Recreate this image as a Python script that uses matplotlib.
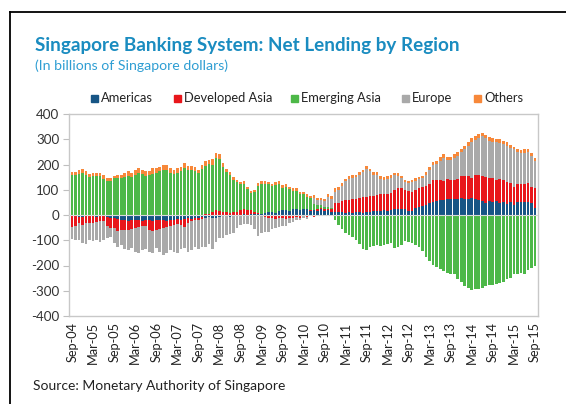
import matplotlib
matplotlib.use("Agg")
import matplotlib.pyplot as plt
import numpy as np
import pandas as pd
from matplotlib.lines import Line2D
from matplotlib.patches import Rectangle

# ---------------- data (billions of SGD, monthly Sep-04 .. Sep-15) ----------------
americas = [-5,-4,-6,-8,-3,-5,-4,-6,-5,-4,-8,-10,-12,-15,-18,-20,-22,-20,-18,-20,-22,-20,-18,-22,-20,-18,-20,-22,-18,-20,-15,-18,-15,-12,-14,-10,-10,-8,-10,-6,-12,-10,-8,
            -5,-3,-8,-2,-3,-2,2,-3,3,2,3,5,8,10,12,8,15,18,20,15,25,22,20,25,22,15,20,16,22,15,20,12,
            10,12,10,8,10,9,12,10,8,12,10,14,15,16,18,16,20,22,24,23,22,16,15,28,30,35,40,47,52,55,58,60,62,65,63,62,66,65,64,66,62,60,55,48,54,50,55,48,52,43,52,40,52,51,52,53,46,29]
developed_asia = [-42,-41,-24,-31,-29,-25,-26,-22,-20,-19,-35,-40,-41,-48,-40,-40,-36,-36,-34,-29,-23,-23,-42,-41,-38,-38,-32,-26,-27,-19,-21,-22,-32,-18,-11,-10,-8,-6,3,5,12,20,15,
                  10,12,8,10,12,18,22,20,18,10,5,-3,-8,-12,-10,-15,-12,-10,-15,-10,-12,-8,-10,-5,-8,3,-8,8,6,8,5,12,
                  37,35,45,50,50,53,52,56,62,59,64,61,65,67,66,69,68,78,84,85,78,78,77,72,75,77,75,75,88,83,82,75,80,72,75,82,87,88,91,80,98,99,100,102,93,95,83,94,86,87,76,72,70,71,72,72,66,77]
emerging_asia = [158,157,164,168,157,152,153,153,153,144,134,136,145,145,146,150,155,152,160,165,162,155,157,163,168,174,180,179,167,164,167,174,185,180,177,175,168,183,192,197,188,207,205,
                 180,158,150,128,118,103,97,82,68,80,107,116,115,111,102,110,106,90,92,87,71,73,62,57,51,48,25,15,12,10,8,5,
                 -18,-40,-55,-70,-78,-88,-100,-115,-135,-138,-126,-122,-120,-122,-118,-116,-112,-132,-126,-118,-104,-108,-110,-117,-125,-142,-165,-182,-198,-206,-214,-222,-230,-232,-235,-252,-266,-280,-290,-296,-292,-292,-290,-282,-278,-278,-275,-270,-265,-255,-248,-233,-232,-230,-235,-218,-210,-201]
europe = [-48,-55,-68,-73,-83,-70,-72,-72,-80,-75,-49,-38,-57,-62,-62,-75,-82,-74,-93,-101,-95,-92,-85,-87,-72,-89,-108,-102,-95,-106,-114,-95,-83,-118,-115,-105,-117,-114,-117,-110,-124,-98,-85,
          -85,-77,-67,-68,-47,-38,-35,-33,-40,-55,-85,-70,-60,-55,-45,-38,-35,-33,-28,-20,-15,-12,-8,-7,-8,-5,24,22,21,22,38,35,
          46,52,60,75,81,85,85,91,100,112,99,85,80,60,55,58,59,57,47,37,32,34,40,35,36,34,45,56,58,63,74,90,76,79,87,90,95,108,119,142,136,145,157,153,147,146,150,144,145,144,136,148,128,124,122,125,121,107]
others = [12,15,13,16,18,10,12,14,12,14,12,10,10,12,14,15,20,16,18,20,18,20,18,22,20,18,20,18,18,16,18,16,20,16,18,15,12,14,18,16,20,18,20,
          15,14,12,12,10,10,12,10,8,8,10,12,12,10,10,12,12,10,10,10,12,10,10,10,10,10,10,8,8,10,12,12,
          12,10,12,10,12,12,10,12,10,12,10,12,10,10,10,10,12,10,10,10,8,8,8,10,8,10,10,12,12,14,14,15,12,14,15,16,14,14,16,15,18,16,14,15,14,14,12,14,12,14,12,10,12,12,14,12,12,12]

series_names = ["Americas", "Developed Asia", "Emerging Asia", "Europe", "Others"]
series_colors = ["#175585", "#e8161b", "#4db848", "#a9a9a9", "#f7883a"]
months = pd.date_range("2004-09-01", periods=len(americas), freq="MS")
tick_labels = [d.strftime("%b-%y") for d in months[::6]]
y_ticks = [-400, -300, -200, -100, 0, 100, 200, 300, 400]

FONT = "Lato"
W, H = 566, 404
fig = plt.figure(figsize=(W / 100, H / 100), dpi=100)

def fx(px):
    return px / W

def fy(py):
    return 1 - py / H

# outer frame (top & left)
fig.add_artist(Line2D([fx(10), fx(10)], [fy(12), 0], color="black", lw=1.3))
fig.add_artist(Line2D([fx(10), 1], [fy(12), fy(12)], color="black", lw=1.3))

fig.text(fx(35), fy(45), "Singapore Banking System: Net Lending by Region", family=FONT,
         fontsize=13.6, fontweight="bold", color="#1a8cc0", va="center", ha="left")
fig.text(fx(35), fy(66), "(In billions of Singapore dollars)", family=FONT,
         fontsize=10.2, color="#2f9ed3", va="center", ha="left")

ax = fig.add_axes([fx(69), fy(316), fx(538) - fx(69), fy(114) - fy(316)])
x = np.arange(len(americas))
pos_base = np.zeros(len(x))
neg_base = np.zeros(len(x))
for vals, col in zip([americas, developed_asia, emerging_asia, europe, others], series_colors):
    v = np.asarray(vals, dtype=float)
    p = np.where(v > 0, v, 0)
    q = np.where(v < 0, v, 0)
    ax.bar(x, p, bottom=pos_base, width=0.74, color=col, linewidth=0, zorder=2)
    ax.bar(x, q, bottom=neg_base, width=0.74, color=col, linewidth=0, zorder=2)
    pos_base += p
    neg_base += q

ax.axhline(0, color="#d9d9d9", lw=0.8, zorder=3)
ax.set_xlim(-0.9, len(x) - 0.1)
ax.set_ylim(-400, 400)
ax.set_yticks(y_ticks)
ax.set_yticklabels([str(t) for t in y_ticks], family=FONT, fontsize=9.6, color="#333333")
ax.set_xticks(x[::6])
ax.set_xticklabels(tick_labels, rotation=90, family=FONT, fontsize=9.2, color="#222222")
ax.tick_params(axis="x", length=0, pad=4)
ax.tick_params(axis="y", length=4, color="#bfbfbf", pad=3)
for s in ax.spines.values():
    s.set_color("#c8c8c8")
    s.set_linewidth(1.0)

# legend
leg_sq = [91, 174, 291, 402, 474]
for sx, name, col in zip(leg_sq, series_names, series_colors):
    fig.add_artist(Rectangle((fx(sx), fy(102)), fx(7), 7 / H, color=col, transform=fig.transFigure))
    fig.text(fx(sx + 10), fy(98.5), name, family=FONT, fontsize=9.3, color="#222222",
             va="center", ha="left")

fig.text(fx(33), fy(386), "Source: Monetary Authority of Singapore", family=FONT,
         fontsize=10.0, color="#222222", va="center", ha="left")

fig.savefig("out.png", dpi=100)
